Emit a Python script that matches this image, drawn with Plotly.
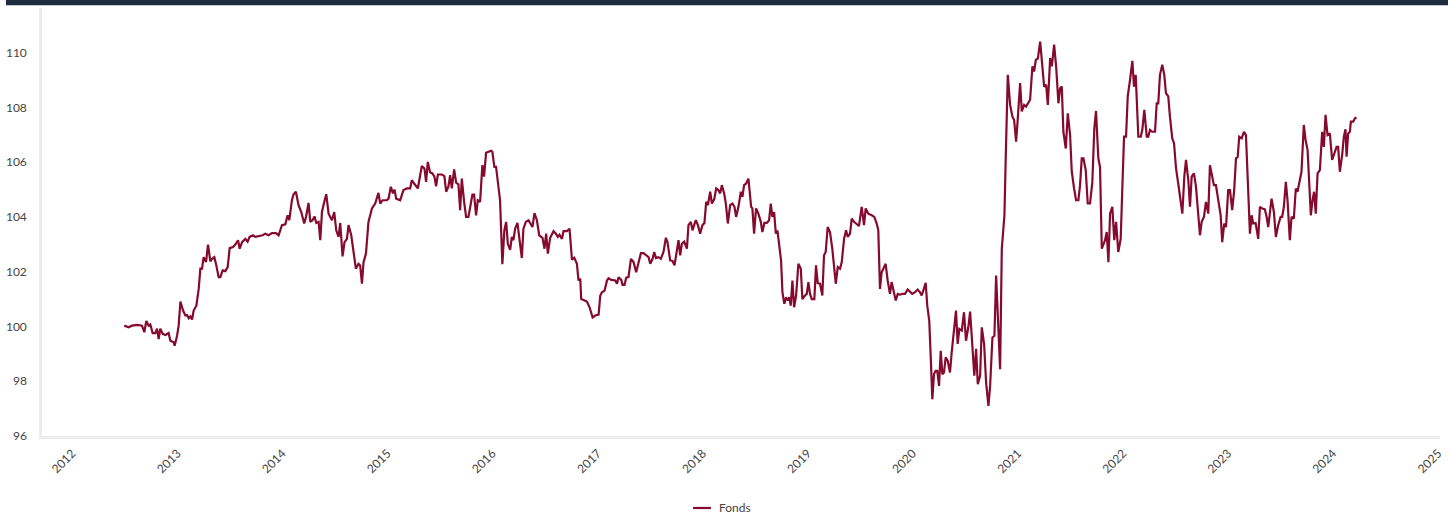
import pandas as pd
import plotly.graph_objects as go

# time as decimal years, fund index values
t_dec = [
2012.495,2012.536,2012.568,2012.616,2012.663,2012.685,2012.704,2012.726,2012.742,2012.764,
2012.790,2012.806,2012.821,2012.837,2012.859,2012.885,2012.916,2012.932,2012.964,2012.973,
2012.996,2013.011,2013.028,2013.053,2013.075,2013.091,2013.107,2013.123,2013.139,2013.154,
2013.180,2013.202,2013.218,2013.234,2013.249,2013.272,2013.291,2013.313,2013.329,2013.351,
2013.370,2013.392,2013.408,2013.430,2013.456,2013.478,2013.497,2013.529,2013.551,2013.577,
2013.592,2013.615,2013.646,2013.668,2013.687,2013.719,2013.741,2013.782,
2013.811,2013.836,2013.868,2013.900,2013.938,2013.963,2013.995,2014.027,2014.049,2014.065,
2014.090,2014.106,2014.128,2014.153,2014.179,2014.207,2014.224,2014.248,2014.265,2014.286,
2014.305,2014.322,2014.344,2014.360,2014.376,2014.398,2014.417,2014.439,2014.471,2014.493,
2014.512,2014.534,2014.550,2014.572,2014.591,2014.614,2014.629,2014.655,2014.677,2014.699,
2014.724,2014.740,2014.757,2014.772,2014.795,2014.819,2014.852,2014.883,2014.914,2014.931,
2014.953,2014.994,2015.010,2015.032,2015.052,2015.067,2015.083,2015.121,
2015.152,2015.185,2015.216,2015.232,2015.254,2015.289,2015.327,2015.352,2015.368,2015.384,
2015.406,2015.428,2015.447,2015.463,2015.480,2015.518,2015.542,2015.559,2015.580,2015.597,
2015.613,2015.635,2015.654,2015.676,2015.692,2015.708,2015.730,2015.749,2015.771,2015.787,
2015.809,2015.825,2015.844,2015.860,2015.882,2015.904,2015.920,2015.939,2015.968,2015.987,
2015.999,2016.018,2016.034,2016.056,2016.072,2016.094,2016.113,2016.130,2016.146,2016.168,
2016.184,2016.199,2016.215,2016.237,2016.253,2016.279,2016.294,2016.317,2016.342,2016.365,
2016.380,2016.399,2016.422,2016.444,
2016.475,2016.494,2016.510,2016.526,2016.548,2016.580,2016.602,2016.621,2016.637,2016.660,
2016.675,2016.707,2016.732,2016.755,2016.777,2016.802,2016.817,2016.834,2016.843,2016.865,
2016.897,2016.922,2016.951,2016.976,2017.008,2017.024,2017.040,2017.065,2017.088,2017.103,
2017.129,2017.167,2017.183,2017.198,2017.224,2017.236,2017.255,2017.271,2017.293,2017.316,
2017.341,2017.366,2017.388,2017.411,2017.436,2017.462,2017.484,2017.500,2017.522,2017.538,
2017.554,2017.579,2017.601,2017.626,2017.649,2017.664,2017.690,2017.712,2017.731,2017.754,
2017.769,2017.785,
2017.801,2017.823,2017.849,2017.864,2017.887,2017.902,2017.934,2017.954,2017.975,2017.997,
2018.016,2018.033,2018.049,2018.071,2018.087,2018.109,2018.128,2018.149,2018.166,2018.182,
2018.204,2018.220,2018.239,2018.261,2018.283,2018.302,2018.318,2018.340,2018.363,2018.378,
2018.394,2018.413,2018.435,2018.461,2018.473,2018.489,2018.508,2018.530,2018.553,2018.568,
2018.587,2018.610,2018.632,2018.648,2018.663,2018.680,2018.696,2018.711,2018.727,2018.746,
2018.759,2018.777,2018.794,2018.810,2018.825,2018.838,2018.854,2018.870,2018.889,2018.911,
2018.934,2018.949,2018.974,2018.991,2019.006,2019.022,2019.038,2019.063,2019.079,2019.095,
2019.117,
2019.139,2019.155,2019.171,2019.190,2019.212,2019.234,2019.250,2019.267,2019.286,2019.308,
2019.324,2019.346,2019.365,2019.381,2019.403,2019.419,2019.441,2019.472,2019.488,2019.514,
2019.536,2019.552,2019.577,2019.609,2019.634,2019.657,2019.672,2019.688,2019.704,2019.720,
2019.742,2019.761,2019.783,2019.799,2019.815,2019.838,2019.857,2019.878,2019.900,2019.926,
2019.952,2019.974,2019.995,2020.021,2020.047,2020.069,2020.085,2020.100,2020.123,2020.138,
2020.157,2020.173,2020.186,2020.202,2020.218,2020.233,2020.250,2020.266,2020.281,2020.297,
2020.313,2020.332,2020.354,2020.370,2020.395,2020.411,
2020.427,2020.443,2020.466,2020.487,2020.506,2020.528,2020.545,2020.566,2020.585,2020.602,
2020.618,2020.640,2020.656,2020.678,2020.697,2020.719,2020.735,2020.757,2020.776,2020.792,
2020.814,2020.830,2020.846,2020.871,2020.884,2020.903,2020.925,2020.947,2020.963,2020.982,
2020.998,2021.020,2021.036,2021.058,2021.077,2021.099,2021.115,2021.137,2021.153,2021.170,
2021.189,2021.211,2021.227,2021.249,2021.268,2021.284,2021.306,2021.322,2021.344,2021.363,
2021.385,2021.401,2021.417,2021.432,2021.455,2021.474,2021.496,2021.512,2021.534,2021.553,
2021.575,2021.591,2021.607,2021.623,2021.645,2021.664,2021.686,2021.708,2021.727,2021.743,
2021.765,2021.781,2021.798,2021.813,2021.829,2021.845,2021.861,2021.877,2021.898,2021.917,
2021.934,2021.955,2021.978,2021.994,2022.010,2022.029,2022.045,2022.067,2022.089,2022.105,
2022.121,2022.146,2022.169,2022.184,2022.203,2022.226,2022.241,2022.257,2022.279,2022.305,
2022.321,2022.336,2022.352,2022.374,2022.393,2022.409,2022.431,2022.447,2022.469,2022.486,
2022.505,2022.526,2022.543,2022.565,2022.584,2022.600,2022.622,2022.638,2022.654,2022.676,
2022.695,2022.716,2022.733,2022.749,2022.771,2022.790,2022.812,2022.828,2022.850,2022.866,
2022.885,2022.907,2022.930,2022.945,2022.964,2022.981,2023.002,2023.019,2023.040,2023.059,
2023.076,2023.092,2023.107,2023.130,2023.152,2023.171,2023.193,2023.209,2023.225,2023.240,
2023.263,2023.288,2023.304,2023.326,2023.351,2023.368,2023.383,2023.399,2023.415,2023.437,
2023.456,2023.478,2023.501,2023.516,2023.532,2023.551,2023.567,2023.589,2023.605,2023.627,
2023.646,2023.662,2023.684,2023.700,2023.722,2023.739,2023.758,2023.770,2023.789,2023.805,
2023.820,2023.836,2023.853,2023.875,2023.897,2023.913,2023.929,2023.948,2023.970,2023.992,
2024.011,2024.034,2024.049,2024.065,2024.087,2024.103,2024.119,2024.129,2024.144,2024.160,
2024.170,2024.192,2024.208,2024.224,
]

fonds = [
100.03,99.97,100.03,100.06,100.03,99.79,100.20,100.03,100.07,99.76,
99.76,99.92,99.54,99.92,99.73,99.69,99.76,99.48,99.42,99.30,
99.66,100.03,100.91,100.58,100.40,100.42,100.30,100.37,100.25,100.58,
100.76,101.37,102.11,102.11,102.53,102.35,102.99,102.38,102.47,102.53,
102.23,101.80,101.80,102.05,102.02,102.17,102.86,102.90,102.99,103.15,
102.84,103.08,103.20,103.10,103.27,103.33,103.27,103.30,
103.33,103.39,103.33,103.41,103.41,103.33,103.70,103.73,104.06,103.88,
104.61,104.83,104.92,104.43,104.18,103.76,104.00,104.51,103.82,103.88,
104.02,103.78,103.82,103.15,104.18,104.55,104.83,104.12,103.88,104.18,
103.51,103.27,103.78,102.56,103.08,103.20,103.70,103.33,102.66,102.11,
102.29,102.23,101.56,102.35,102.66,103.82,104.31,104.49,104.88,104.49,
104.61,104.61,104.67,105.10,104.86,105.00,104.67,104.61,
104.98,105.04,105.04,105.34,105.22,105.04,105.86,105.77,105.28,106.01,
105.63,105.59,105.47,105.12,105.55,105.55,105.49,104.92,105.10,105.53,
105.04,105.74,105.25,105.19,104.25,105.40,104.55,104.00,104.00,104.37,
104.82,104.82,104.06,104.61,104.55,105.89,105.47,106.34,106.38,106.42,
106.38,105.83,105.83,105.22,104.61,102.27,103.51,103.82,103.02,102.80,
103.27,103.15,103.57,103.78,103.27,102.50,103.57,103.82,103.88,103.70,
103.63,104.14,103.88,103.33,
103.24,102.84,103.39,102.66,103.24,103.48,103.39,103.27,103.35,103.20,
103.48,103.48,103.57,102.44,102.51,102.29,101.68,101.74,101.00,100.97,
100.91,100.70,100.33,100.40,100.43,101.13,101.25,101.31,101.68,101.76,
101.70,101.68,101.56,101.80,101.70,101.52,101.52,101.78,101.80,102.47,
102.35,101.98,102.35,102.68,102.68,102.60,102.53,102.29,102.47,102.72,
102.50,102.53,102.47,102.72,103.24,103.08,102.41,102.39,102.23,102.78,
103.15,102.60,
103.02,103.10,102.84,103.70,103.82,103.51,103.88,103.70,103.39,103.70,
103.78,104.55,104.43,104.92,104.49,104.64,105.04,104.98,104.86,105.16,
104.86,104.49,103.76,104.43,104.49,104.37,104.00,104.37,104.92,104.73,
105.16,105.22,105.40,104.37,104.31,103.39,104.31,104.12,103.82,103.45,
103.78,103.78,103.88,104.49,104.00,104.18,103.39,103.51,102.96,102.41,
101.25,100.83,101.07,100.95,101.07,100.76,101.68,100.70,101.13,102.29,
102.11,101.00,101.13,101.19,101.62,101.19,101.00,101.00,102.23,101.58,
101.56,
101.13,102.60,102.72,103.63,103.45,102.84,102.17,101.56,102.17,102.11,
102.35,103.20,103.51,103.27,103.39,103.94,103.82,103.70,103.67,104.37,
103.70,104.31,104.12,104.06,104.00,103.76,103.51,101.37,101.98,102.11,
102.29,101.68,101.19,101.62,101.31,100.95,101.19,101.16,101.19,101.19,
101.35,101.25,101.19,101.25,101.35,101.25,101.13,101.31,101.59,100.76,
100.21,98.69,97.34,98.26,98.38,98.38,97.83,99.11,98.26,98.32,
98.87,98.75,98.32,99.05,100.03,100.58,
99.36,99.91,99.85,100.52,99.48,99.97,100.54,99.05,98.20,99.18,
97.89,98.20,99.97,99.36,97.95,97.10,97.83,99.60,99.66,101.86,
99.91,98.44,102.84,104.06,106.26,109.19,108.09,107.66,107.54,106.75,
107.60,108.89,107.85,108.09,108.03,108.21,108.28,109.50,109.31,109.74,
109.78,110.40,109.80,108.76,108.82,108.09,109.80,109.50,110.29,109.50,
108.15,108.70,108.76,107.11,106.50,107.78,106.99,105.65,105.04,104.61,
104.61,105.16,106.14,106.14,105.71,104.49,104.49,105.28,107.24,107.87,
106.14,105.83,102.84,103.02,103.15,103.45,102.35,104.12,104.37,103.15,
103.82,102.72,103.20,105.10,106.93,106.93,108.40,109.01,109.70,108.76,
109.19,106.93,106.93,107.18,107.91,106.93,106.93,107.18,107.11,107.11,
108.15,108.15,109.19,109.56,109.19,108.52,108.40,107.66,106.87,106.69,
105.77,105.22,104.73,104.12,105.47,106.08,105.34,104.37,105.47,105.59,
105.10,104.18,103.33,103.82,104.00,104.55,104.12,105.89,105.53,105.16,
105.16,104.61,104.06,103.08,103.76,103.63,104.98,104.98,104.25,104.98,
106.14,106.18,106.93,106.87,107.11,106.99,105.22,103.39,104.06,103.76,
103.78,103.20,104.37,104.31,104.28,104.00,103.63,104.06,104.67,104.18,
103.27,103.70,104.00,104.00,104.37,105.28,104.61,103.15,104.00,103.94,
105.04,104.92,105.40,105.65,107.36,106.81,106.44,105.59,104.06,104.61,
104.92,104.12,105.59,105.71,107.11,106.56,107.73,106.99,107.05,106.08,
106.32,106.56,106.56,105.65,106.26,106.93,107.20,106.20,107.05,107.11,
107.48,107.48,107.60,107.63,
]

series_name = "Fonds"
year_ticks = [str(y) for y in range(2012, 2026)]
x_range = ["2011-09-18", "2025-01-07"]
y_range = [96, 111.63]
y_ticks = [96, 98, 100, 102, 104, 106, 108, 110]


def dec_to_date(t):
    y = int(t)
    start = pd.Timestamp(year=y, month=1, day=1)
    end = pd.Timestamp(year=y + 1, month=1, day=1)
    return start + (end - start) * (t - y)


dates = [dec_to_date(t) for t in t_dec]

LINE = "#850a2e"
TXT = "#444444"
AX = "#ececec"
FONT = "Lato, Open Sans, sans-serif"

fig = go.Figure()
fig.add_trace(go.Scatter(
    x=dates, y=fonds, mode="lines", name=series_name,
    line=dict(color=LINE, width=2.2), showlegend=False,
))

LEG_Y = -0.1682
fig.update_layout(
    width=1448, height=516,
    margin=dict(l=42, r=8, t=8, b=80, autoexpand=False),
    paper_bgcolor="white", plot_bgcolor="white",
    font=dict(family=FONT, size=12, color=TXT),
    showlegend=False,
    shapes=[
        dict(type="rect", xref="paper", yref="paper",
             x0=-0.0258, x1=1.0058, y0=1.0065, y1=1.02,
             fillcolor="#1f2b3e", line=dict(width=0), layer="above"),
        # legend key
        dict(type="line", xref="paper", yref="paper",
             x0=0.4657, x1=0.4785, y0=LEG_Y, y1=LEG_Y,
             line=dict(color=LINE, width=2.2)),
    ],
    annotations=[
        dict(text=series_name, xref="paper", yref="paper", x=0.4835, y=LEG_Y,
             xanchor="left", yanchor="middle", showarrow=False, borderpad=0,
             font=dict(size=12, color=TXT)),
    ],
)

fig.update_xaxes(
    type="date", range=x_range,
    tickvals=[f"{y}-01-01" for y in year_ticks], ticktext=year_ticks,
    tickangle=-45, showgrid=False, zeroline=False,
    showline=True, linecolor=AX, linewidth=2.5,
    ticks="", ticklabelstandoff=3, automargin=False,
    tickfont=dict(size=12, color=TXT),
)
fig.update_yaxes(
    range=y_range, tickvals=y_ticks, showgrid=False, zeroline=False,
    showline=True, linecolor=AX, linewidth=2.5,
    ticks="", ticklabelstandoff=10, automargin=False,
    tickfont=dict(size=12, color=TXT),
)

fig.write_html("out.html", config={"displayModeBar": False},
               post_script="document.body.style.margin='0px';document.body.style.overflow='hidden';")
